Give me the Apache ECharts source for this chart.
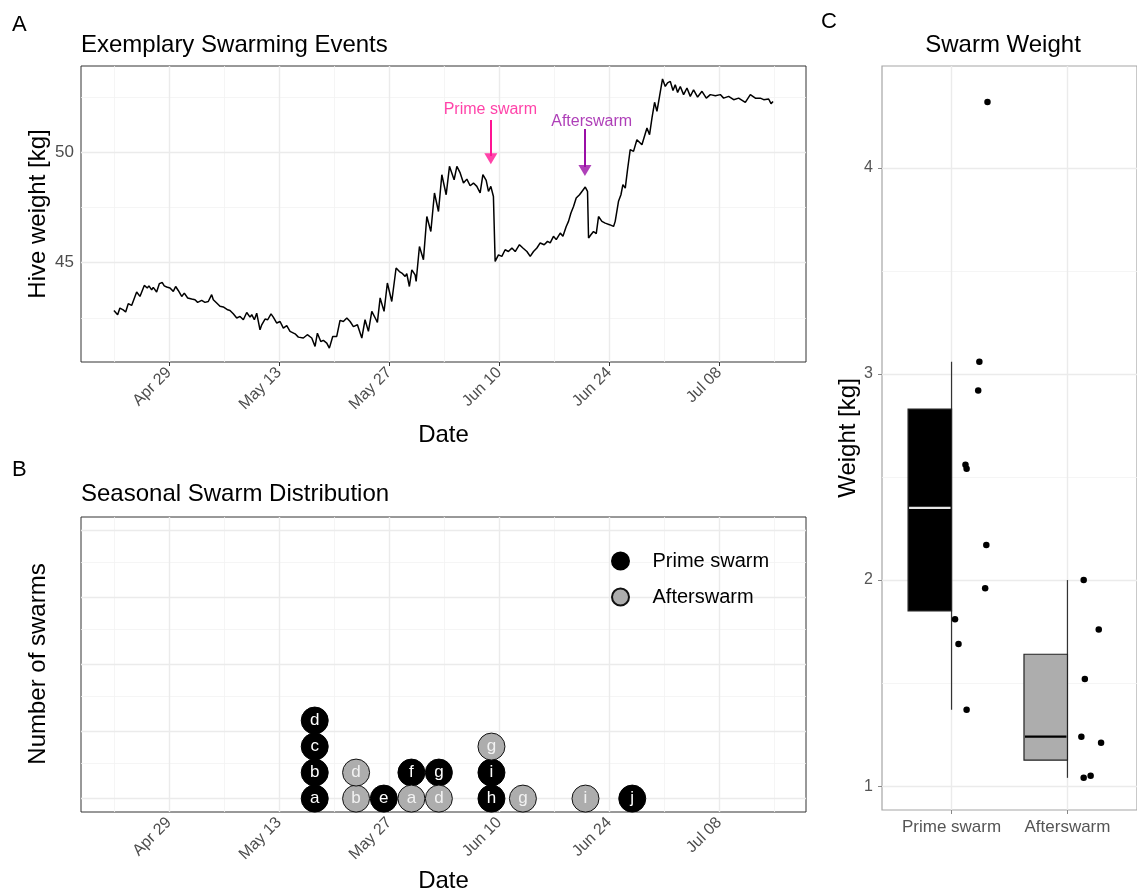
<!DOCTYPE html>
<html><head><meta charset="utf-8">
<script src="https://cdn.jsdelivr.net/npm/echarts@6/dist/echarts.min.js"></script>
<style>html,body{margin:0;padding:0;background:#fff}#c{width:1137px;height:893px}</style>
</head><body><div id="c"></div>
<script>
// ---------- Panel A: hive weight time series (days since Apr 22) ----------
const hiveDay = [0.00,0.47,0.76,1.18,1.49,1.82,2.25,2.46,2.89,3.31,3.86,4.24,4.45,4.80,5.00,5.43,5.77,6.15,6.40,6.71,7.13,7.55,7.85,8.18,8.62,8.95,9.38,9.89,10.31,10.65,11.16,11.58,12.00,12.43,12.64,13.07,13.49,13.91,14.47,14.76,15.18,15.62,16.04,16.46,16.89,17.31,17.53,17.86,18.16,18.58,18.80,19.22,19.56,19.98,20.27,20.71,21.13,21.55,21.98,22.40,23.04,23.46,24.09,24.60,25.16,25.58,25.88,26.31,26.64,27.07,27.40,27.83,28.34,28.76,29.18,29.62,30.04,30.46,30.97,31.53,31.94,32.37,32.80,33.35,33.51,33.86,34.36,34.78,35.34,35.89,36.31,36.62,37.04,37.25,37.58,37.89,38.31,38.44,38.86,39.37,39.80,40.31,40.77,41.28,41.71,42.26,42.68,43.27,43.62,44.04,44.46,44.89,45.31,45.73,46.16,46.58,46.93,47.35,47.64,47.94,48.27,48.49,48.91,49.34,49.76,50.18,50.62,51.04,51.58,52.02,52.53,52.95,53.37,53.80,54.22,54.73,55.15,55.49,55.91,56.26,56.77,57.11,57.53,57.82,58.13,58.46,58.80,59.22,59.53,59.95,60.24,60.37,60.67,61.00,61.35,61.64,62.07,62.49,63.04,63.55,63.76,64.18,64.49,64.74,65.04,65.33,65.67,66.09,66.52,66.73,67.16,67.80,68.13,68.44,68.77,69.07,69.40,69.78,70.13,70.42,70.77,71.11,71.40,71.70,72.04,72.46,72.89,73.31,73.73,74.24,74.80,75.35,75.86,76.50,77.13,77.55,78.19,78.83,79.46,80.31,80.95,81.59,82.22,82.65,83.28,83.58,83.84];
const hiveWeight = [42.83,42.64,42.94,42.86,42.76,43.14,43.06,42.97,43.67,43.47,43.97,43.85,43.95,43.77,43.88,43.67,44.05,44.10,43.95,43.90,43.85,43.70,43.92,43.74,43.47,43.62,43.40,43.35,43.32,43.20,43.29,43.20,43.24,43.55,43.32,43.17,43.02,42.99,42.86,42.83,42.68,42.49,42.56,42.41,42.74,42.53,42.64,42.41,42.71,41.95,42.18,42.44,42.41,42.68,42.53,42.26,42.33,42.03,42.14,41.88,41.77,41.62,41.58,41.73,41.58,41.20,41.80,41.42,41.47,41.35,41.12,41.65,41.65,42.38,42.33,42.49,42.33,42.10,42.18,41.58,42.41,41.88,42.79,42.41,42.29,43.40,42.79,44.08,43.24,44.76,44.60,44.53,44.38,44.50,43.92,44.68,44.45,44.15,45.74,45.14,47.10,46.42,48.17,47.33,49.00,48.09,49.38,48.77,49.38,49.08,48.62,48.80,48.50,48.62,48.47,48.17,49.00,48.74,48.24,48.47,48.01,45.06,45.36,45.29,45.59,45.51,45.67,45.51,45.82,45.67,45.51,45.29,45.51,45.67,45.90,45.82,45.97,45.90,46.20,46.05,46.35,46.20,46.65,46.88,47.26,47.56,47.94,48.09,48.24,48.44,48.24,46.12,46.27,46.42,46.32,47.10,46.88,46.80,46.73,46.65,46.88,47.79,48.09,48.55,48.39,49.23,50.14,50.06,50.59,50.67,50.36,51.12,50.82,51.58,52.29,51.88,52.56,53.35,53.01,53.17,53.24,52.83,53.09,52.74,53.01,52.64,52.94,52.56,52.86,52.53,52.79,52.48,52.64,52.59,52.64,52.48,52.56,52.41,52.48,52.29,52.64,52.48,52.48,52.41,52.44,52.23,52.33];

// Date axis (days since Apr 22)
const dateTickDays = [7, 21, 35, 49, 63, 77];
const dateTickLabels = ['Apr 29', 'May 13', 'May 27', 'Jun 10', 'Jun 24', 'Jul 08'];
const dateMinorDays = [0, 14, 28, 42, 56, 70, 84];
const weightTicks = [45, 50];
const weightMinor = [42.5, 47.5, 52.5];

// Annotations (arrows + labels)
const annotLabels = ['Prime swarm', 'Afterswarm'];
const annotColors = ['#FF1493', '#9A0FA6'];
const annotTextDay = [47.88, 60.77];
const annotTextWeight = [51.94, 51.40];
const annotArrowDay = [47.94, 59.91];
const annotArrowFrom = [51.49, 51.08];
const annotArrowTo = [49.85, 49.35];
const annotHeadWeight = [49.72, 49.19];

// ---------- Panel B: seasonal swarm distribution (stack order within each bin) ----------
const swarmDay    = [25.54,25.54,25.54,25.54,30.80,30.80,34.33,37.84,37.84,41.33,41.33,48.02,48.02,48.02,52.02,59.98,65.93];
const swarmType   = ['P','P','P','P','A','A','P','A','P','A','P','P','P','A','A','A','P'];
const swarmLetter = ['a','b','c','d','b','d','e','a','f','d','g','h','i','g','g','i','j'];
const groupNames = ['Prime swarm', 'Afterswarm'];
const stackStep = 0.097;

// ---------- Panel C: swarm weight ----------
const primeWeights = [4.32, 3.06, 2.92, 2.56, 2.54, 2.17, 1.96, 1.81, 1.69, 1.37];
const primeJitter  = [0.31, 0.24, 0.23, 0.12, 0.13, 0.30, 0.29, 0.03, 0.06, 0.13];
const afterWeights = [2.00, 1.76, 1.52, 1.24, 1.21, 1.04, 1.05];
const afterJitter  = [0.14, 0.27, 0.15, 0.12, 0.29, 0.14, 0.20];
// [whisker low, Q1, median, Q3, whisker high]
const primeBox = [1.37, 1.85, 2.35, 2.83, 3.06];
const afterBox = [1.04, 1.126, 1.24, 1.64, 2.00];
const weightTicksC = [1, 2, 3, 4];
const weightMinorC = [1.5, 2.5, 3.5];

// ---------- build ----------
const FONT = 'Liberation Sans, Arial, Helvetica, sans-serif';
const MAJ = '#EBEBEB', MIN = '#F2F2F2';

function gridMarks(xMaj, xMin, yMaj, yMin) {
  const d = [];
  (xMin || []).forEach(v => d.push({xAxis: v, lineStyle: {color: MIN, width: 0.8, type: 'solid'}}));
  (yMin || []).forEach(v => d.push({yAxis: v, lineStyle: {color: MIN, width: 0.8, type: 'solid'}}));
  (xMaj || []).forEach(v => d.push({xAxis: v, lineStyle: {color: MAJ, width: 1.4, type: 'solid'}}));
  (yMaj || []).forEach(v => d.push({yAxis: v, lineStyle: {color: MAJ, width: 1.4, type: 'solid'}}));
  return {silent: true, symbol: 'none', z: 1, animation: false, label: {show: false},
          emphasis: {disabled: true}, data: d};
}

const fmtDate = v => { const i = dateTickDays.indexOf(v); return i >= 0 ? dateTickLabels[i] : ''; };

const hiveData = hiveDay.map((d, i) => [d, hiveWeight[i]]);

// stack index per bin
const stackCount = {};
const primeDots = [], afterDots = [];
swarmDay.forEach((d, i) => {
  const k = stackCount[d] || 0;
  stackCount[d] = k + 1;
  const pt = [d, k * stackStep, swarmLetter[i]];
  (swarmType[i] === 'P' ? primeDots : afterDots).push(pt);
});

const boxData = [[1].concat(primeBox), [2].concat(afterBox)];
const boxFill = ['#000000', '#ADADAD'];
const boxMedian = ['#E6E6E6', '#000000'];
const boxHalf = 0.375;
const jitterPts = primeWeights.map((w, i) => [1 + primeJitter[i], w])
  .concat(afterWeights.map((w, i) => [2 + afterJitter[i], w]));

function renderBox(params, api) {
  const g = api.value(0);
  const lo = api.value(1), q1 = api.value(2), med = api.value(3), q3 = api.value(4), hi = api.value(5);
  const pLo = api.coord([g, lo]), pHi = api.coord([g, hi]);
  const tl = api.coord([g - boxHalf, q3]), br = api.coord([g, q1]);
  const m1 = api.coord([g - boxHalf, med]), m2 = api.coord([g, med]);
  const idx = params.dataIndex;
  return {type: 'group', children: [
    {type: 'line', shape: {x1: pLo[0], y1: pLo[1], x2: pHi[0], y2: pHi[1]}, style: {stroke: '#333', lineWidth: 1.2}},
    {type: 'rect', shape: {x: tl[0], y: tl[1], width: br[0] - tl[0], height: br[1] - tl[1]},
     style: {fill: boxFill[idx], stroke: '#222', lineWidth: 1.2}},
    {type: 'line', shape: {x1: m1[0] + 1, y1: m1[1], x2: m2[0] - 1, y2: m2[1]}, style: {stroke: boxMedian[idx], lineWidth: 2.2}}
  ]};
}

function txt(text, x, y, size, align, rot) {
  return {type: 'text', x: x, y: y, rotation: rot || 0, silent: true, z: 10,
    style: {text: text, fontSize: size, fontFamily: FONT, fill: '#000',
            textAlign: align || 'left', textVerticalAlign: 'middle'}};
}

const tickLbl = {color: '#4D4D4D', fontSize: 16, fontFamily: FONT};

const chart = echarts.init(document.getElementById('c'), null, {renderer: 'canvas'});
chart.setOption({
  animation: false,
  backgroundColor: '#fff',
  textStyle: {fontFamily: FONT},
  grid: [
    {left: 81, top: 66, width: 725, height: 296, show: true, borderColor: '#333', borderWidth: 1, backgroundColor: '#fff'},
    {left: 81, top: 517, width: 725, height: 295, show: true, borderColor: '#333', borderWidth: 1, backgroundColor: '#fff'},
    {left: 882, top: 66, width: 261, height: 744, show: true, borderColor: '#A6A6A6', borderWidth: 1.2, backgroundColor: '#fff'}
  ],
  xAxis: [
    {type: 'value', gridIndex: 0, min: -4.19, max: 88.03, splitLine: {show: false}, axisLine: {show: false},
     axisTick: {show: true, length: 4, lineStyle: {color: '#333'}, customValues: dateTickDays},
     axisLabel: Object.assign({customValues: dateTickDays, rotate: 45, margin: 8, formatter: fmtDate}, tickLbl)},
    {type: 'value', gridIndex: 1, min: -4.19, max: 88.03, splitLine: {show: false}, axisLine: {show: false},
     axisTick: {show: true, length: 4, lineStyle: {color: '#333'}, customValues: dateTickDays},
     axisLabel: Object.assign({customValues: dateTickDays, rotate: 45, margin: 8, formatter: fmtDate}, tickLbl)},
    {type: 'value', gridIndex: 2, min: 0.4, max: 2.6, splitLine: {show: false}, axisLine: {show: false},
     axisTick: {show: true, length: 4, lineStyle: {color: '#888'}, customValues: [1, 2]},
     axisLabel: Object.assign({customValues: [1, 2], margin: 9, formatter: v => groupNames[Math.round(v) - 1]}, tickLbl, {fontSize: 17, color: '#555'})}
  ],
  yAxis: [
    {type: 'value', gridIndex: 0, min: 40.49, max: 53.94, splitLine: {show: false}, axisLine: {show: false},
     axisTick: {show: true, length: 4, lineStyle: {color: '#333'}, customValues: weightTicks},
     axisLabel: Object.assign({customValues: weightTicks, margin: 7}, tickLbl, {fontSize: 17})},
    {type: 'value', gridIndex: 1, min: -0.05, max: 1.05, splitLine: {show: false}, axisLine: {show: false},
     axisTick: {show: false}, axisLabel: {show: false}},
    {type: 'value', gridIndex: 2, min: 0.884, max: 4.495, splitLine: {show: false}, axisLine: {show: false},
     axisTick: {show: true, length: 4, lineStyle: {color: '#888'}, customValues: weightTicksC},
     axisLabel: Object.assign({customValues: weightTicksC, margin: 9}, tickLbl, {fontSize: 16, color: '#555'})}
  ],
  legend: {
    data: groupNames, orient: 'vertical', left: 606, top: 546, itemWidth: 54, itemHeight: 17, itemGap: 16,
    icon: 'circle', selectedMode: false,
    textStyle: {fontSize: 20, color: '#000', fontFamily: FONT}
  },
  series: [
    {type: 'line', name: 'hive', xAxisIndex: 0, yAxisIndex: 0, data: hiveData, showSymbol: false, z: 3,
     lineStyle: {color: '#000', width: 1.5}, silent: true,
     markLine: gridMarks(dateTickDays, dateMinorDays, weightTicks, weightMinor)},
    {type: 'scatter', name: 'annot', xAxisIndex: 0, yAxisIndex: 0, symbolSize: 0, z: 4, silent: true,
     data: annotLabels.map((t, i) => ({value: [annotTextDay[i], annotTextWeight[i], t],
       label: {color: annotColors[i]}})),
     label: {show: true, position: 'inside', formatter: p => p.value[2], fontSize: 16, fontFamily: FONT},
     markLine: {silent: true, animation: false, z: 4, symbol: 'none',
       label: {show: false},
       data: annotLabels.map((t, i) => [
         {coord: [annotArrowDay[i], annotArrowFrom[i]], lineStyle: {color: annotColors[i], width: 2, type: 'solid'}},
         {coord: [annotArrowDay[i], annotArrowTo[i]]}
       ])}},
    {type: 'scatter', name: 'arrowheads', xAxisIndex: 0, yAxisIndex: 0, z: 4, silent: true,
     symbol: 'triangle', symbolRotate: 180, symbolSize: [13, 11],
     data: annotLabels.map((t, i) => ({value: [annotArrowDay[i], annotHeadWeight[i]], itemStyle: {color: annotColors[i]}}))},
    {type: 'scatter', name: groupNames[0], xAxisIndex: 1, yAxisIndex: 1, data: primeDots, symbolSize: 27, z: 3,
     itemStyle: {color: '#000', borderColor: '#000', borderWidth: 1, opacity: 1},
     label: {show: true, position: 'inside', formatter: p => p.value[2], color: '#fff', fontSize: 17, fontFamily: FONT},
     markLine: gridMarks(dateTickDays, dateMinorDays, [0, 0.25, 0.5, 0.75, 1], [0.125, 0.375, 0.625, 0.875])},
    {type: 'scatter', name: groupNames[1], xAxisIndex: 1, yAxisIndex: 1, data: afterDots, symbolSize: 27, z: 3,
     itemStyle: {color: '#ADADAD', borderColor: '#111', borderWidth: 1, opacity: 1},
     label: {show: true, position: 'inside', formatter: p => p.value[2], color: '#F2F2F2', fontSize: 17, fontFamily: FONT}},
    {type: 'custom', name: 'box', xAxisIndex: 2, yAxisIndex: 2, data: boxData, renderItem: renderBox, z: 3,
     encode: {x: 0, y: [1, 2, 3, 4, 5]}, silent: true},
    {type: 'scatter', name: 'weights', xAxisIndex: 2, yAxisIndex: 2, data: jitterPts, symbolSize: 6.5, z: 4,
     itemStyle: {color: '#000', opacity: 1}, silent: true,
     markLine: gridMarks([1, 2], [], weightTicksC, weightMinorC)}
  ],
  graphic: [
    txt('A', 12, 25, 22),
    txt('Exemplary Swarming Events', 81, 45, 24),
    txt('B', 12, 470, 22),
    txt('Seasonal Swarm Distribution', 81, 494, 24),
    txt('C', 821, 22, 22),
    txt('Swarm Weight', 1003, 45, 24, 'center'),
    txt('Date', 443.5, 435, 24, 'center'),
    txt('Date', 443.5, 881, 24, 'center'),
    txt('Hive weight [kg]', 38, 214, 24, 'center', Math.PI / 2),
    txt('Number of swarms', 38, 664, 24, 'center', Math.PI / 2),
    txt('Weight [kg]', 848, 438, 24, 'center', Math.PI / 2)
  ]
});
</script></body></html>
